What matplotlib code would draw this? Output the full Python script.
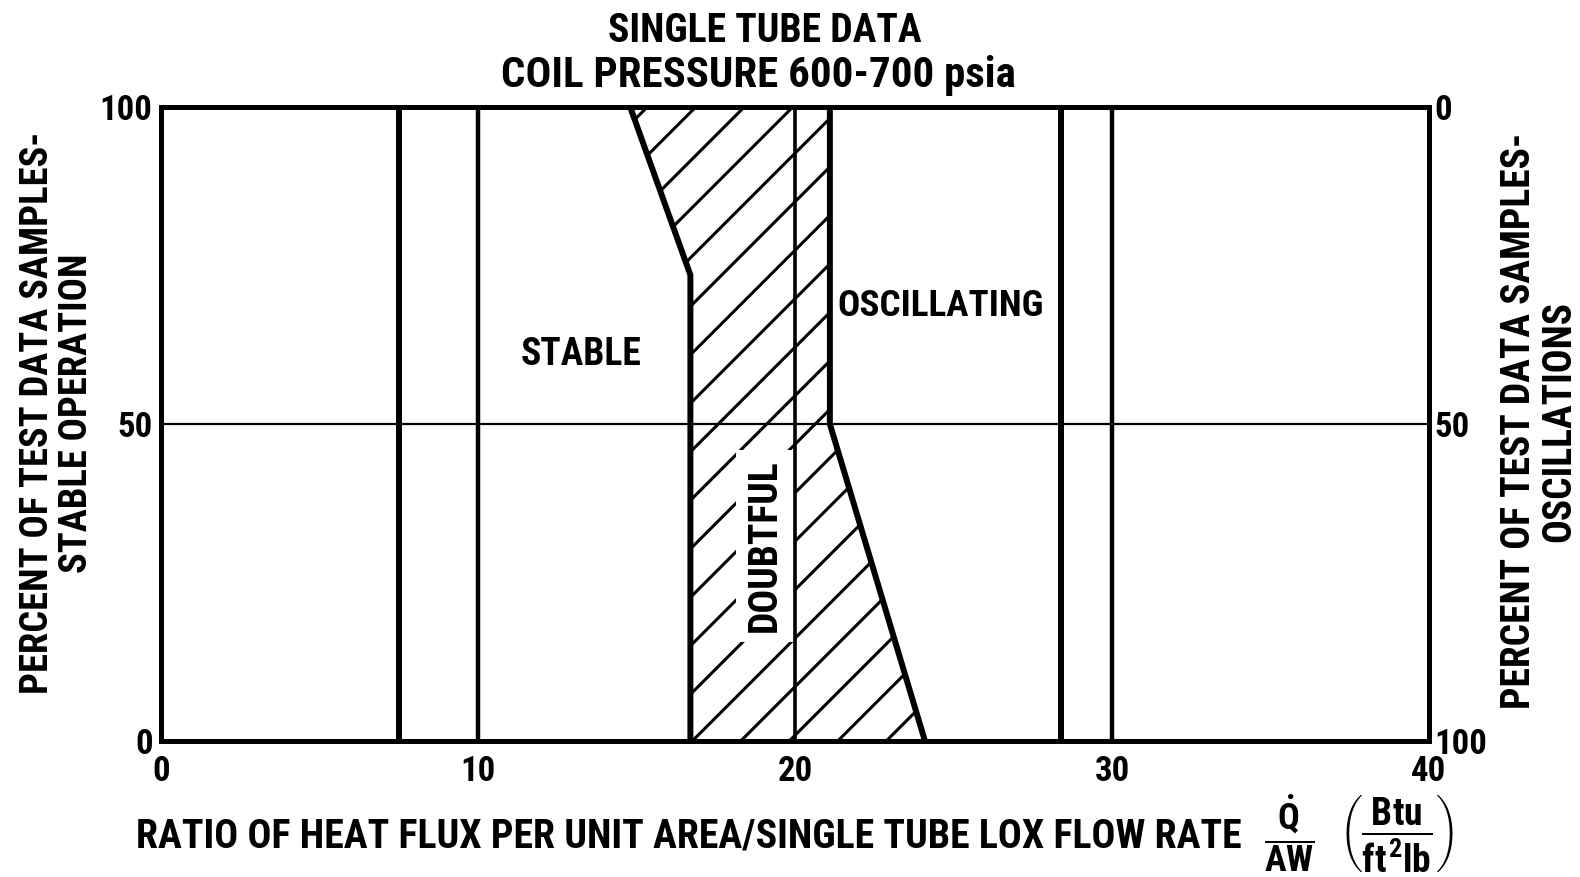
import matplotlib
matplotlib.use("Agg")
import matplotlib.pyplot as plt
from matplotlib import font_manager
from matplotlib.patches import Polygon
import numpy as np

# ---- data ----
x_ticks = [0, 10, 20, 30, 40]
y_ticks_left = [0, 50, 100]
y_ticks_right = [100, 50, 0]

# vertical reference lines (x position)
vlines_heavy = [7.5, 28.4]
vlines_medium = [10.0, 30.0]
vline_thin = [20.0]
hline_mid = [50.0]

# boundary of "stable" region (x, y)
stable_x = [16.7, 16.7, 14.8]
stable_y = [0.0, 73.5, 100.0]
# boundary of "oscillating" region (x, y)
osc_x = [24.1, 22.3, 21.1, 21.1]
osc_y = [0.0, 30.0, 50.0, 100.0]

labels = {"STABLE": (13.25, 61.0), "OSCILLATING": (24.6, 68.6)}
doubtful_pos = (19.05, 30.8)

# ---- pick a narrow bold font if available ----
names = {f.name for f in font_manager.fontManager.ttflist}
FAM = "DejaVu Sans"
for cand in ["Roboto Condensed", "Liberation Sans Narrow", "Open Sans Condensed",
             "Noto Sans Condensed", "Arial Narrow", "Nimbus Sans Narrow"]:
    if cand in names:
        FAM = cand
        break

plt.rcParams["font.family"] = [FAM, "DejaVu Sans"]
plt.rcParams["font.weight"] = "bold"
plt.rcParams["mathtext.fontset"] = "custom"
plt.rcParams["mathtext.rm"] = FAM + ":bold"
plt.rcParams["mathtext.it"] = FAM + ":bold"
plt.rcParams["mathtext.bf"] = FAM + ":bold"

W, H = 15.8, 8.77
fig = plt.figure(figsize=(W, H), dpi=100)
renderer = fig.canvas.get_renderer()
S = 1580 / 1568.0  # reference coordinate scale


def fit(t, target_px, vertical=False):
    fs = t.get_fontsize()
    bb = t.get_window_extent(renderer)
    cur = bb.height if vertical else bb.width
    t.set_fontsize(fs * target_px / cur)
    return t


L, R, B, T = 161 / 1580, 1429 / 1580, 1 - 741 / 877, 1 - 107 / 877
ax = fig.add_axes([L, B, R - L, T - B])
ax.set_xlim(0, 40)
ax.set_ylim(0, 100)

for s in ax.spines.values():
    s.set_linewidth(3.6)
    s.set_color("black")

tfs = 25
ax.set_xticks(x_ticks)
ax.set_yticks(y_ticks_left)
ax.tick_params(axis="both", length=0, labelsize=tfs)
ax.tick_params(axis="x", pad=10)
ax.tick_params(axis="y", pad=6)

sec = ax.secondary_yaxis("right", functions=(lambda y: 100 - y, lambda y: 100 - y))
sec.set_yticks(y_ticks_right)
sec.tick_params(length=0, labelsize=tfs, pad=4)
sec.spines["right"].set_linewidth(3.6)

# region lines
for xv in vlines_heavy:
    ax.axvline(xv, color="black", lw=4.3, zorder=4)
for xv in vlines_medium:
    ax.axvline(xv, color="black", lw=3.2, zorder=4)
for xv in vline_thin:
    ax.axvline(xv, color="black", lw=2.6, zorder=4)
for yv in hline_mid:
    ax.axhline(yv, color="black", lw=1.6, zorder=4)

ax.plot(stable_x, stable_y, color="black", lw=4.3, zorder=4, solid_joinstyle="miter")
ax.plot(osc_x, osc_y, color="black", lw=4.3, zorder=4, solid_joinstyle="miter")

# hatched (doubtful) region: polygon between boundaries
poly_x = stable_x + osc_x[::-1]
poly_y = stable_y + osc_y[::-1]
patch = Polygon(np.column_stack([poly_x, poly_y]), closed=True,
                facecolor="none", edgecolor="none")
ax.add_patch(patch)

# 45-degree hatch lines in display space
px_per_x = (R - L) * W * 100 / 40
px_per_y = (T - B) * H * 100 / 100
slope = px_per_x / px_per_y
spacing_px = 48.5
dy = spacing_px / px_per_y
y_ref = 92.7
xs = np.array([10.0, 30.0])
for k in range(-40, 40):
    c = y_ref + k * dy
    ln, = ax.plot(xs, c + slope * (xs - 20.0), color="black", lw=2.2, zorder=2)
    ln.set_clip_path(patch)

# texts
t_st = ax.text(*labels["STABLE"], "STABLE", ha="center", va="center", fontsize=24, zorder=5)
fit(t_st, 121)
t_os = ax.text(*labels["OSCILLATING"], "OSCILLATING", ha="center", va="center", fontsize=24, zorder=5)
fit(t_os, 206)
t_db = ax.text(doubtful_pos[0], doubtful_pos[1], "DOUBTFUL", rotation=90, ha="center",
               va="center", fontsize=24, zorder=3,
               bbox=dict(facecolor="white", edgecolor="none", pad=6))
fit(t_db, 173, vertical=True)

# titles
t1 = fig.text(759 * S / 1580, 1 - 31 / 877, "SINGLE TUBE DATA", ha="center", va="center", fontsize=24)
fit(t1, 314)
t2 = fig.text(753 * S / 1580, 1 - 75 / 877, "COIL PRESSURE 600-700 psia", ha="center", va="center", fontsize=24)
fit(t2, 515)

# y labels
yl = fig.text(57 / 1580, 1 - 413 / 877, "PERCENT OF TEST DATA SAMPLES-\nSTABLE OPERATION",
              rotation=90, ha="center", va="center", multialignment="center",
              fontsize=23, linespacing=1.05)
fit(yl, 564, vertical=True)
yr = fig.text(1539 / 1580, 1 - 421 / 877, "PERCENT OF TEST DATA SAMPLES-\nOSCILLATIONS",
              rotation=90, ha="center", va="center", multialignment="center",
              fontsize=23, linespacing=1.05)
fit(yr, 579, vertical=True)

# x label
xl = fig.text(1242 / 1580, 1 - 836 / 877,
              "RATIO OF HEAT FLUX PER UNIT AREA/SINGLE TUBE LOX FLOW RATE",
              ha="right", va="center", fontsize=24)
fit(xl, 1107)
fq = fig.text(1280 * S / 1580, 1 - 833 / 877, r"$\dfrac{\dot{Q}}{AW}$",
              ha="center", va="center", fontsize=26)
fp = fig.text(1386 * S / 1580, 1 - 834 / 877, r"$\left(\dfrac{Btu}{ft^{2}lb}\right)$",
              ha="center", va="center", fontsize=27)

fig.savefig("out.png", dpi=100, facecolor="white")
